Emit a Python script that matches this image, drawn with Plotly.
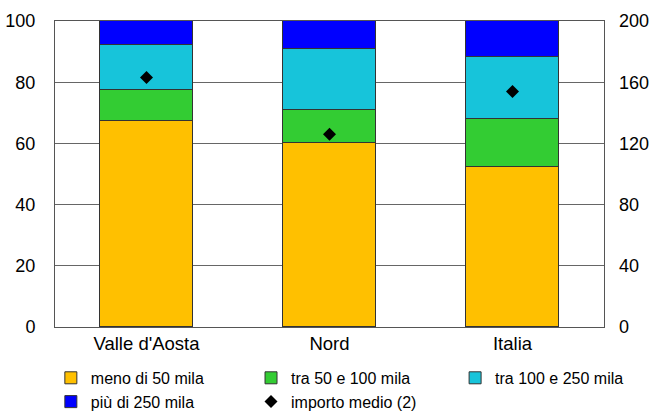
import plotly.graph_objects as go

categories = ["Valle d'Aosta", "Nord", "Italia"]
meno_50 = [67.4, 60.0, 52.2]
tra_50_100 = [9.9, 10.8, 15.8]
tra_100_250 = [14.7, 20.2, 20.2]
piu_250 = [8.0, 9.0, 11.8]
importo_medio = [163, 126, 154]

left_ticks = [0, 20, 40, 60, 80, 100]
right_ticks = [0, 40, 80, 120, 160, 200]

# (name, values, colour, legend column)
series = [
    ("meno di 50 mila", meno_50, "#FFC000", "legend"),
    ("tra 50 e 100 mila", tra_50_100, "#33CC33", "legend2"),
    ("tra 100 e 250 mila", tra_100_250, "#17C4DA", "legend3"),
    ("più di 250 mila", piu_250, "#0000FF", "legend"),
]

fig = go.Figure()
for name, vals, col, leg in series:
    fig.add_trace(go.Bar(x=categories, y=vals, name=name, marker_color=col, legend=leg,
                         marker_line=dict(color="#333333", width=1), width=0.51))

fig.add_trace(go.Scatter(x=categories, y=importo_medio, name="importo medio (2)", mode="markers",
                         yaxis="y2", legend="legend2",
                         marker=dict(symbol="diamond", color="black", size=10)))

font = "Liberation Sans, Arial, sans-serif"
leg_common = dict(orientation="v", xref="container", yref="container", yanchor="top",
                  xanchor="left", y=0.124, font=dict(size=16), itemwidth=30,
                  traceorder="normal", bgcolor="rgba(0,0,0,0)")
fig.update_layout(
    width=652, height=412,
    barmode="stack", bargap=0,
    margin=dict(l=55, r=48, t=21, b=85, autoexpand=False),
    paper_bgcolor="white", plot_bgcolor="white",
    font=dict(family=font, size=18, color="black"),
    xaxis=dict(showline=True, linecolor="#555555", linewidth=1, mirror=True, automargin=False,
               ticks="", ticklabelstandoff=0, tickfont=dict(size=18.5)),
    yaxis=dict(range=[0, 100], tickvals=left_ticks, showgrid=True, gridcolor="#666666",
               gridwidth=1, showline=True, linecolor="#555555", linewidth=1, mirror=True,
               automargin=False, ticks="", ticklabelstandoff=15, zeroline=False),
    yaxis2=dict(range=[0, 200], tickvals=right_ticks, overlaying="y", side="right",
                automargin=False, showgrid=False, ticks="", ticklabelstandoff=14, zeroline=False),
    legend=dict(x=0.078, **leg_common),
    legend2=dict(x=0.385, **leg_common),
    legend3=dict(x=0.698, **leg_common),
    showlegend=True,
)

# drop the default 8px body margin so the figure fills the window
fig.write_html("out.html", config={"displayModeBar": False},
               post_script="document.body.style.margin='0';")
